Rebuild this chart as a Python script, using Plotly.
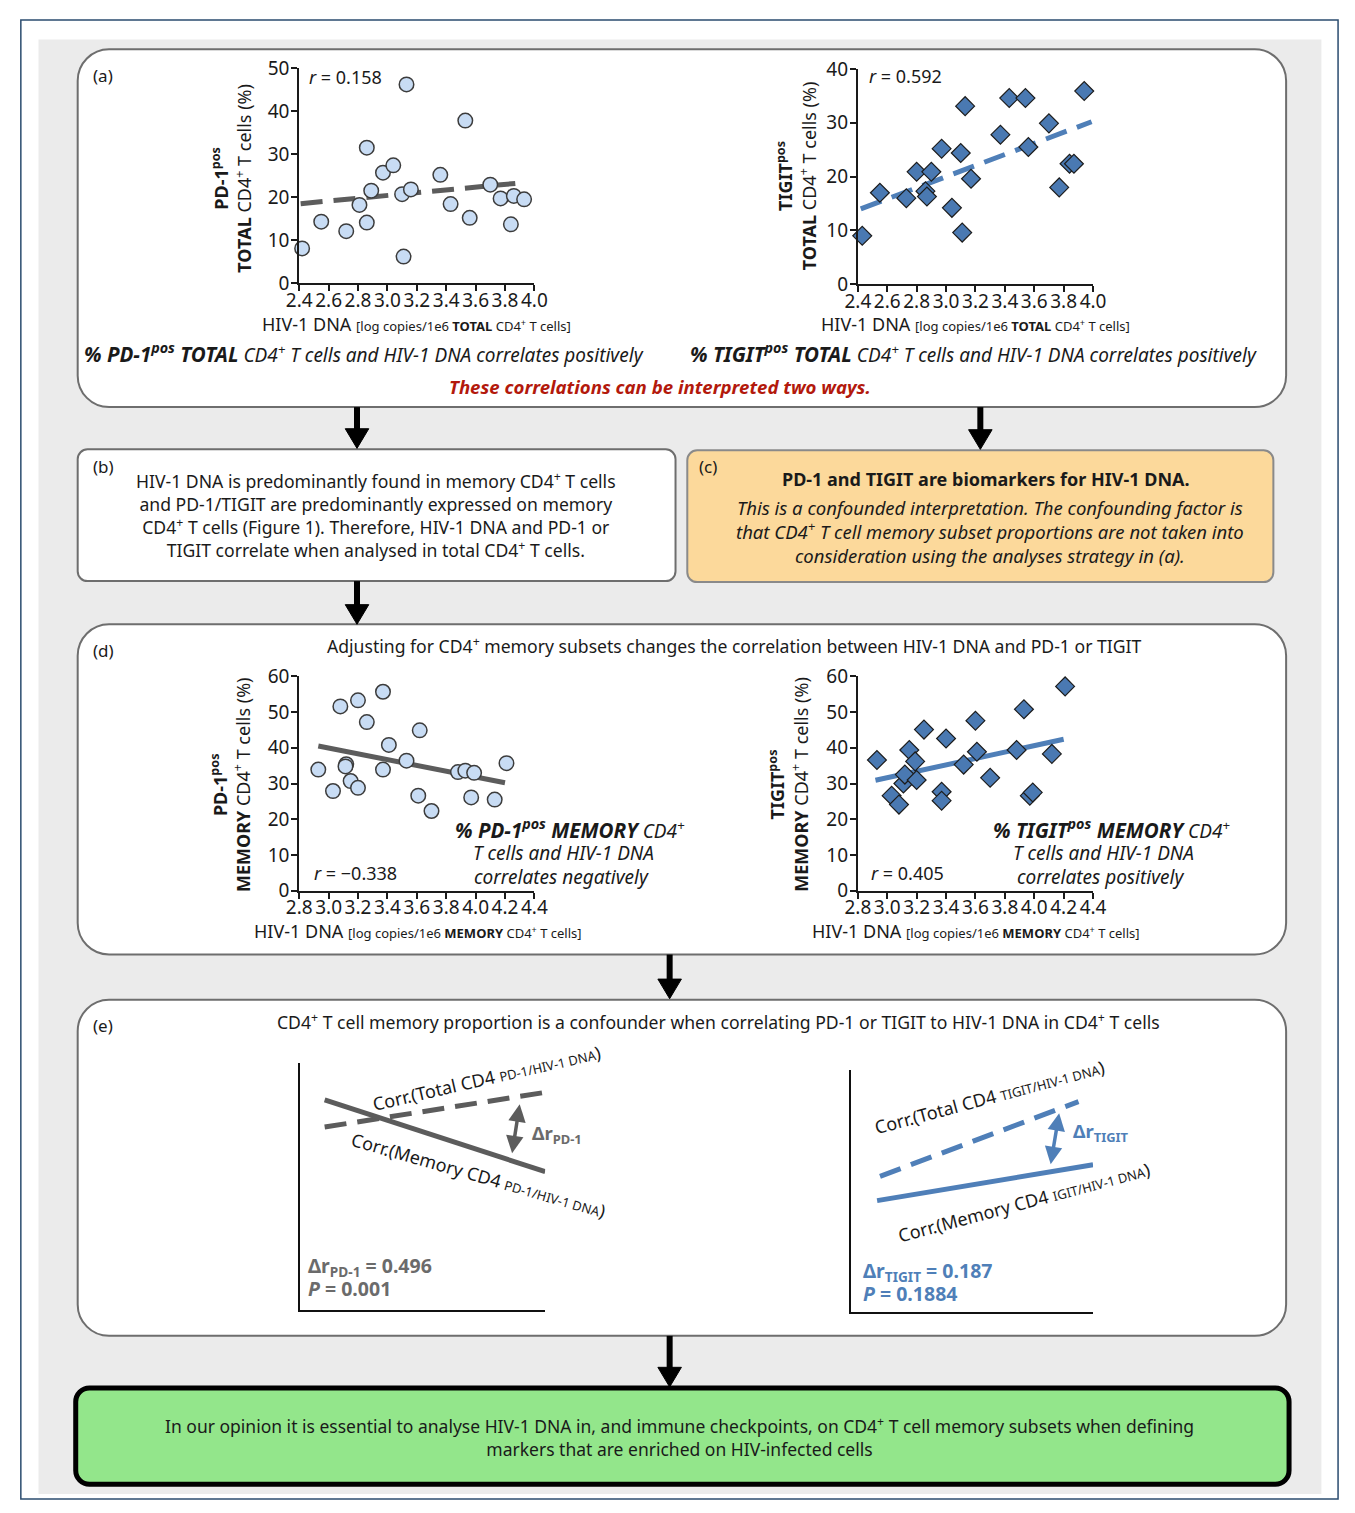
import plotly.graph_objects as go

# ---------------- data ----------------
# (a) PD-1pos TOTAL CD4+ T cells vs HIV-1 DNA (total)
a_pd1_x = [2.42, 2.55, 2.72, 2.81, 2.86, 2.86, 2.89, 2.97, 3.04, 3.10, 3.11,
           3.13, 3.16, 3.36, 3.43, 3.53, 3.56, 3.70, 3.77, 3.84, 3.86, 3.93]
a_pd1_y = [8.1, 14.3, 12.1, 18.2, 31.5, 14.1, 21.5, 25.7, 27.4, 20.7, 6.2,
           46.2, 21.8, 25.2, 18.4, 37.8, 15.2, 22.9, 19.7, 13.7, 20.3, 19.5]
a_pd1_fit_x = [2.41, 3.87]
a_pd1_fit_y = [18.5, 23.2]

# (a) TIGITpos TOTAL CD4+ T cells vs HIV-1 DNA (total)
a_tig_x = [2.43, 2.55, 2.73, 2.80, 2.86, 2.87, 2.90, 2.97, 3.04, 3.10, 3.11,
           3.13, 3.17, 3.37, 3.43, 3.54, 3.56, 3.70, 3.77, 3.84, 3.87, 3.94]
a_tig_y = [9.0, 17.0, 16.0, 20.9, 17.3, 16.3, 20.9, 25.2, 14.2, 24.4, 9.6,
           33.1, 19.6, 27.8, 34.6, 34.6, 25.5, 29.9, 18.0, 22.4, 22.4, 35.9]
a_tig_fit_x = [2.42, 3.99]
a_tig_fit_y = [14.0, 30.2]

# (d) PD-1pos MEMORY CD4+ T cells vs HIV-1 DNA (memory)
d_pd1_x = [2.93, 3.03, 3.08, 3.12, 3.115, 3.15, 3.20, 3.20, 3.26, 3.37, 3.37,
           3.41, 3.53, 3.61, 3.62, 3.70, 3.88, 3.93, 3.97, 3.99, 4.13, 4.21]
d_pd1_y = [33.9, 27.9, 51.6, 35.4, 34.8, 30.7, 53.3, 28.8, 47.2, 33.9, 55.7,
           40.8, 36.4, 26.6, 44.9, 22.3, 33.2, 33.6, 26.1, 33.0, 25.5, 35.7]
d_pd1_fit_x = [2.93, 4.20]
d_pd1_fit_y = [40.5, 30.2]

# (d) TIGITpos MEMORY CD4+ T cells vs HIV-1 DNA (memory)
d_tig_x = [2.93, 3.03, 3.08, 3.11, 3.12, 3.15, 3.19, 3.20, 3.25, 3.37, 3.37,
           3.40, 3.52, 3.60, 3.61, 3.70, 3.88, 3.93, 3.97, 3.99, 4.12, 4.21]
d_tig_y = [36.6, 26.6, 24.1, 30.0, 32.5, 39.4, 36.2, 31.0, 45.1, 27.7, 25.2,
           42.6, 35.3, 47.6, 38.9, 31.6, 39.4, 50.8, 26.6, 27.5, 38.3, 57.2]
d_tig_fit_x = [2.92, 4.20]
d_tig_fit_y = [30.9, 42.4]

# (e) schematic lines (normalised schematic units)
e_pd1_total_x = [0.10, 1.00]
e_pd1_total_y = [0.74, 0.88]
e_pd1_mem_x = [0.10, 1.00]
e_pd1_mem_y = [0.85, 0.56]
e_pd1_arrow = [0.896, 0.832, 0.864, 0.628]
e_tig_total_x = [0.12, 0.94]
e_tig_total_y = [0.56, 0.868]
e_tig_mem_x = [0.108, 1.00]
e_tig_mem_y = [0.46, 0.608]
e_tig_arrow = [0.86, 0.82, 0.824, 0.604]

# tick labels
x_ticks_total = [2.4, 2.6, 2.8, 3.0, 3.2, 3.4, 3.6, 3.8, 4.0]
x_ticks_mem = [2.8, 3.0, 3.2, 3.4, 3.6, 3.8, 4.0, 4.2, 4.4]
y_ticks_pd1_total = [0, 10, 20, 30, 40, 50]
y_ticks_tig_total = [0, 10, 20, 30, 40]
y_ticks_mem = [0, 10, 20, 30, 40, 50, 60]

# ---------------- helpers ----------------
W, H = 1355, 1513
FONT = "Noto Sans"
TXT = "#1a1a1a"
GREY = "#5c5c5c"
BLUE = "#4f7fb8"
DIAM = "#4a79b2"
CIRC = "#c8dcf4"


def X(p):
    return p / W


def Y(p):
    return 1 - p / H


def rrect(x0, y0, x1, y1, r):
    k = 0.5523 * r
    pts = [
        f"M{X(x0 + r)},{Y(y0)}",
        f"L{X(x1 - r)},{Y(y0)}",
        f"C{X(x1 - r + k)},{Y(y0)} {X(x1)},{Y(y0 + r - k)} {X(x1)},{Y(y0 + r)}",
        f"L{X(x1)},{Y(y1 - r)}",
        f"C{X(x1)},{Y(y1 - r + k)} {X(x1 - r + k)},{Y(y1)} {X(x1 - r)},{Y(y1)}",
        f"L{X(x0 + r)},{Y(y1)}",
        f"C{X(x0 + r - k)},{Y(y1)} {X(x0)},{Y(y1 - r + k)} {X(x0)},{Y(y1 - r)}",
        f"L{X(x0)},{Y(y0 + r)}",
        f"C{X(x0)},{Y(y0 + r - k)} {X(x0 + r - k)},{Y(y0)} {X(x0 + r)},{Y(y0)}",
        "Z",
    ]
    return " ".join(pts)


shapes = []
annotations = []


def box(x0, y0, x1, y1, r, fill, line, lw):
    shapes.append(dict(type="path", path=rrect(x0, y0, x1, y1, r), xref="paper", yref="paper",
                       fillcolor=fill, line=dict(color=line, width=lw), layer="below"))


def arrow(x, y0, y1):
    shapes.append(dict(type="line", xref="paper", yref="paper", x0=X(x), x1=X(x),
                       y0=Y(y0), y1=Y(y1 - 14), line=dict(color="black", width=6), layer="above"))
    shapes.append(dict(type="path", xref="paper", yref="paper",
                       path=f"M{X(x - 12)},{Y(y1 - 20)} L{X(x + 12)},{Y(y1 - 20)} L{X(x)},{Y(y1)} Z",
                       fillcolor="black", line=dict(color="black", width=1), layer="above"))


def text(x, y, s, size=18, color=TXT, xanchor="left", angle=0, align="left"):
    annotations.append(dict(x=X(x), y=Y(y), xref="paper", yref="paper", text=s, showarrow=False,
                            xanchor=xanchor, yanchor="middle", textangle=angle, align=align,
                            font=dict(family=FONT, size=size, color=color)))


# ---------------- frames ----------------
shapes.append(dict(type="rect", xref="paper", yref="paper", x0=X(8), x1=X(1352), y0=Y(1512), y1=Y(7),
                   fillcolor="white", line=dict(color="#2b4c6f", width=1.5), layer="below"))
shapes.append(dict(type="rect", xref="paper", yref="paper", x0=X(26), x1=X(1335), y0=Y(1507), y1=Y(27),
                   fillcolor="#ebebeb", line=dict(width=0), layer="below"))
box(66, 37, 1299, 401, 32, "white", "#6e6e6e", 2)
box(66, 444, 676, 578, 10, "white", "#6e6e6e", 2)
box(688, 445, 1286, 579, 10, "#fcd99b", "#8a8a8a", 2)
box(66, 622, 1299, 958, 32, "white", "#6e6e6e", 2)
box(66, 1004, 1299, 1346, 32, "white", "#6e6e6e", 2)
box(64, 1399, 1302, 1497, 14, "#93e68b", "black", 5)

arrow(351, 401, 443)
arrow(987, 401, 444)
arrow(351, 578, 622)
arrow(670, 958, 1003)
arrow(670, 1346, 1398)

# ---------------- traces ----------------
fig = go.Figure()


def scatter(xs, ys, ax, ay, kind):
    if kind == "circle":
        m = dict(symbol="circle", size=14.5, color=CIRC, line=dict(color="#3c3c3c", width=1.5))
    else:
        m = dict(symbol="diamond", size=14.5, color=DIAM, line=dict(color="#1c1c1c", width=1.2))
    fig.add_trace(go.Scatter(x=xs, y=ys, mode="markers", marker=m, xaxis=ax, yaxis=ay,
                             cliponaxis=False, showlegend=False, hoverinfo="skip"))


def line(xs, ys, ax, ay, color, dash, width=5):
    fig.add_trace(go.Scatter(x=xs, y=ys, mode="lines", xaxis=ax, yaxis=ay, cliponaxis=False,
                             line=dict(color=color, width=width, dash=dash), showlegend=False,
                             hoverinfo="skip"))


line(a_pd1_fit_x, a_pd1_fit_y, "x", "y", GREY, "22px,11px")
scatter(a_pd1_x, a_pd1_y, "x", "y", "circle")
line(a_tig_fit_x, a_tig_fit_y, "x2", "y2", BLUE, "22px,11px")
scatter(a_tig_x, a_tig_y, "x2", "y2", "diamond")
line(d_pd1_fit_x, d_pd1_fit_y, "x3", "y3", GREY, "solid")
scatter(d_pd1_x, d_pd1_y, "x3", "y3", "circle")
line(d_tig_fit_x, d_tig_fit_y, "x4", "y4", BLUE, "solid")
scatter(d_tig_x, d_tig_y, "x4", "y4", "diamond")

line(e_pd1_total_x, e_pd1_total_y, "x5", "y5", GREY, "22px,11px", 5)
line(e_pd1_mem_x, e_pd1_mem_y, "x5", "y5", GREY, "solid", 5)
line(e_tig_total_x, e_tig_total_y, "x6", "y6", BLUE, "22px,11px", 5)
line(e_tig_mem_x, e_tig_mem_y, "x6", "y6", BLUE, "solid", 5)

for ax, ay, arr, col in [("x5", "y5", e_pd1_arrow, GREY), ("x6", "y6", e_tig_arrow, BLUE)]:
    annotations.append(dict(x=arr[0], y=arr[1], ax=arr[2], ay=arr[3], xref=ax, yref=ay,
                            axref=ax, ayref=ay, showarrow=True, arrowhead=2, arrowsize=1,
                            arrowwidth=3.5, arrowcolor=col, arrowside="end+start", text=""))

# ---------------- axes ----------------
common = dict(showgrid=False, zeroline=False, showline=True, linecolor="#1a1a1a", linewidth=2,
              ticks="outside", ticklen=6, tickwidth=2, tickcolor="#1a1a1a", tickangle=0,
              tickfont=dict(family=FONT, size=19, color=TXT))


def xax(x0, x1, rng, vals, anchor):
    return dict(common, domain=[X(x0), X(x1)], range=rng, tickvals=vals,
                ticktext=[f"{v:.1f}" for v in vals], anchor=anchor, ticklabelstandoff=-7)


def yax(yb, yt, rng, vals, anchor):
    return dict(common, domain=[Y(yb), Y(yt)], range=rng, tickvals=vals,
                ticktext=[str(v) for v in vals], anchor=anchor, ticklabelstandoff=-2)


schem = dict(showgrid=False, zeroline=False, showline=True, linecolor="#111111", linewidth=2,
             ticks="", showticklabels=False, range=[0, 1], fixedrange=True)

layout_axes = dict(
    xaxis=xax(292, 532, [2.4, 4.0], x_ticks_total, "y"),
    yaxis=yax(275, 56, [0, 50], y_ticks_pd1_total, "x"),
    xaxis2=xax(862, 1102, [2.4, 4.0], x_ticks_total, "y2"),
    yaxis2=yax(276, 57, [0, 40], y_ticks_tig_total, "x2"),
    xaxis3=xax(292, 532, [2.8, 4.4], x_ticks_mem, "y3"),
    yaxis3=yax(893, 675, [0, 60], y_ticks_mem, "x3"),
    xaxis4=xax(862, 1102, [2.8, 4.4], x_ticks_mem, "y4"),
    yaxis4=yax(893, 675, [0, 60], y_ticks_mem, "x4"),
    xaxis5=dict(schem, domain=[X(293), X(543)], anchor="y5"),
    yaxis5=dict(schem, domain=[Y(1320), Y(1068)], anchor="x5"),
    xaxis6=dict(schem, domain=[X(855), X(1102)], anchor="y6"),
    yaxis6=dict(schem, domain=[Y(1322), Y(1075)], anchor="x6"),
)

# ---------------- texts ----------------
S = '<span style="font-size:13px">'
# panel labels
text(80, 64, "(a)", 17)
text(80, 461, "(b)", 17)
text(698, 461, "(c)", 17)
text(80, 649, "(d)", 17)
text(80, 1030, "(e)", 17)

# (a)
text(300, 65, "<i>r</i> = 0.158", 18)
text(871, 64, "<i>r</i> = 0.592", 18)
text(223, 168, "<b>PD-1<sup>pos</sup></b><br><b>TOTAL</b> CD4<sup>+</sup> T cells (%)", 18,
     xanchor="center", angle=-90, align="center")
text(799, 166, "<b>TIGIT<sup>pos</sup></b><br><b>TOTAL</b> CD4<sup>+</sup> T cells (%)", 18,
     xanchor="center", angle=-90, align="center")
text(412, 316, "HIV-1 DNA " + S + "[log copies/1e6 <b>TOTAL</b> CD4<sup>+</sup> T cells]</span>", 18,
     xanchor="center")
text(982, 316, "HIV-1 DNA " + S + "[log copies/1e6 <b>TOTAL</b> CD4<sup>+</sup> T cells]</span>", 18,
     xanchor="center")
BI = '<span style="font-size:20.5px"><b><i>'
text(70, 346, BI + "% PD-1<sup>pos</sup> TOTAL</i></b></span><i> CD4<sup>+</sup> T cells and HIV-1 DNA correlates positively</i>", 19)
text(689, 346, BI + "% TIGIT<sup>pos</sup> TOTAL</i></b></span><i> CD4<sup>+</sup> T cells and HIV-1 DNA correlates positively</i>", 19)
text(660, 380, "<b><i>These correlations can be interpreted two ways.</i></b>", 18.6, color="#b3190c",
     xanchor="center")

# (b)
text(370, 511, "HIV-1 DNA is predominantly found in memory CD4<sup>+</sup> T cells<br>"
               "and PD-1/TIGIT are predominantly expressed on memory<br>"
               "CD4<sup>+</sup> T cells (Figure 1). Therefore, HIV-1 DNA and PD-1 or<br>"
               "TIGIT correlate when analysed in total CD4<sup>+</sup> T cells.", 17.6,
     xanchor="center", align="center")

# (c)
text(993, 474, "<b>PD-1 and TIGIT are biomarkers for HIV-1 DNA.</b>", 18, xanchor="center")
text(997, 528, "<i>This is a confounded interpretation. The confounding factor is<br>"
               "that CD4<sup>+</sup> T cell memory subset proportions are not taken into<br>"
               "consideration using the analyses strategy in (a).</i>", 18.5,
     xanchor="center", align="center")

# (d)
text(736, 644, "Adjusting for CD4<sup>+</sup> memory subsets changes the correlation between HIV-1 DNA and PD-1 or TIGIT",
     17.6, xanchor="center")
text(305, 875, "<i>r</i> = −0.338", 18)
text(873, 875, "<i>r</i> = 0.405", 18)
text(222, 785, "<b>PD-1<sup>pos</sup></b><br><b>MEMORY</b> CD4<sup>+</sup> T cells (%)", 18,
     xanchor="center", angle=-90, align="center")
text(791, 785, "<b>TIGIT<sup>pos</sup></b><br><b>MEMORY</b> CD4<sup>+</sup> T cells (%)", 18,
     xanchor="center", angle=-90, align="center")
text(413, 934, "HIV-1 DNA " + S + "[log copies/1e6 <b>MEMORY</b> CD4<sup>+</sup> T cells]</span>", 18,
     xanchor="center")
text(983, 934, "HIV-1 DNA " + S + "[log copies/1e6 <b>MEMORY</b> CD4<sup>+</sup> T cells]</span>", 18,
     xanchor="center")
text(449, 830, BI + "% PD-1<sup>pos</sup> MEMORY</i></b></span><i> CD4<sup>+</sup></i>", 19)
text(467, 855, "<i>T cells and HIV-1 DNA</i>", 19)
text(468, 879, "<i>correlates negatively</i>", 19)
text(998, 830, BI + "% TIGIT<sup>pos</sup> MEMORY</i></b></span><i> CD4<sup>+</sup></i>", 19)
text(1018, 855, "<i>T cells and HIV-1 DNA</i>", 19)
text(1022, 879, "<i>correlates positively</i>", 19)

# (e)
text(720, 1026, "CD4<sup>+</sup> T cell memory proportion is a confounder when correlating PD-1 or TIGIT to HIV-1 DNA in CD4<sup>+</sup> T cells",
     17.6, xanchor="center")
text(483, 1084, "Corr.(Total CD4 " + S + "PD-1/HIV-1 DNA</span>)", 18, xanchor="center", angle=-13)
text(475, 1182, "Corr.(Memory CD4 " + S + "PD-1/HIV-1 DNA</span>)", 18, xanchor="center", angle=16)
text(996, 1103, "Corr.(Total CD4 " + S + "TIGIT/HIV-1 DNA</span>)", 18, xanchor="center", angle=-15)
text(1032, 1210, "Corr.(Memory CD4 " + S + "IGIT/HIV-1 DNA</span>)", 18, xanchor="center", angle=-15)
text(528, 1141, "<b>Δr<sub>PD-1</sub></b>", 18.5, color="#6b6b6b")
text(1080, 1139, "<b>Δr<sub>TIGIT</sub></b>", 18.5, color=BLUE)
text(299, 1275, "<b>Δr<sub>PD-1</sub> = 0.496</b>", 19.5, color="#6b6b6b")
text(299, 1298, "<b><i>P</i> = 0.001</b>", 19.5, color="#6b6b6b")
text(865, 1280, "<b>Δr<sub>TIGIT</sub> = 0.187</b>", 19.5, color=BLUE)
text(865, 1303, "<b><i>P</i> = 0.1884</b>", 19.5, color=BLUE)

# final box
text(680, 1449, "In our opinion it is essential to analyse HIV-1 DNA in, and immune checkpoints, on CD4<sup>+</sup> T cell memory subsets when defining<br>"
                "markers that are enriched on HIV-infected cells", 17.5, xanchor="center", align="center")

fig.update_layout(width=W, height=H, margin=dict(l=0, r=0, t=0, b=0),
                  paper_bgcolor="white", plot_bgcolor="rgba(0,0,0,0)",
                  font=dict(family=FONT, size=18, color=TXT),
                  shapes=shapes, annotations=annotations, showlegend=False, **layout_axes)

fig.write_html("out.html",
               post_script="document.body.style.margin='0';document.body.style.padding='0';"
                           "document.documentElement.style.overflow='hidden';",
               config={"displayModeBar": False})
